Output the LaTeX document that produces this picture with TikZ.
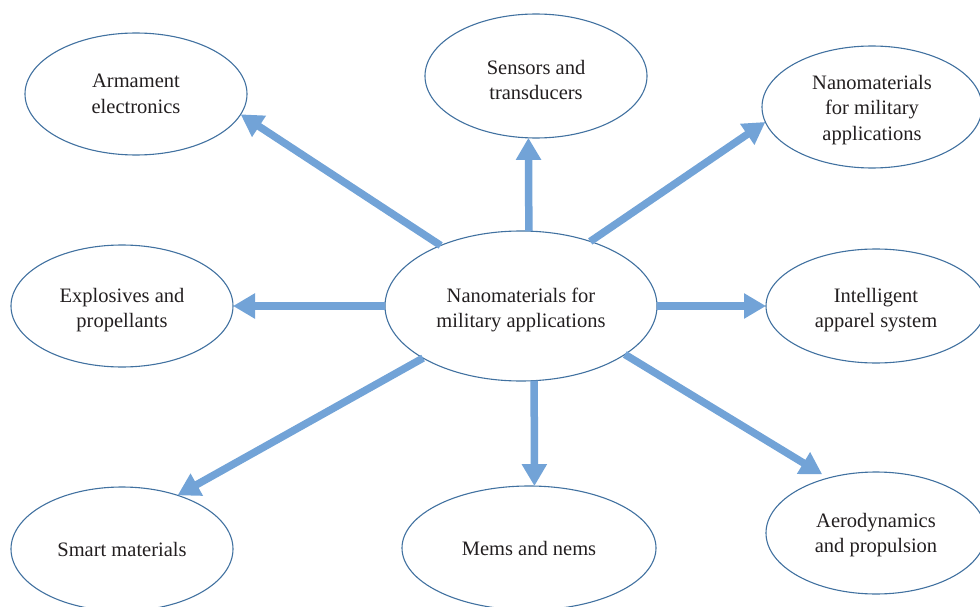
\documentclass[tikz,border=0pt]{standalone}
\usepackage{fontspec}
\setmainfont{Liberation Serif}
\usetikzlibrary{shapes.geometric,arrows.meta}
\definecolor{ellline}{RGB}{65,113,160}
\definecolor{arrblue}{RGB}{114,163,215}
\definecolor{txt}{RGB}{35,31,32}
\newcommand{\topstrut}[1]{\rule{0pt}{#1}}
\tikzset{
  bubble/.style={ellipse,draw=ellline,line width=1.1pt,inner sep=0pt,outer sep=0pt,
    align=center,text=txt,font=\fontsize{20.5}{25.5}\selectfont},
  link/.style={draw=arrblue,line width=7.5pt,
    -{Triangle[length=22pt,width=24pt]}}
}
\begin{document}
\begin{tikzpicture}[x=1pt,y=-1pt]
\useasboundingbox (0,0) rectangle (980,607);
\node[bubble,minimum width=272pt,minimum height=150pt] (c) at (521,306) {\topstrut{22pt}Nanomaterials for\\military applications};
\node[bubble,minimum width=222pt,minimum height=122pt] (arm) at (136,94) {Armament\\electronics};
\node[bubble,minimum width=222pt,minimum height=124pt] (sen) at (536,76) {\topstrut{22pt}Sensors and\\transducers};
\node[bubble,minimum width=220pt,minimum height=122pt] (nm) at (872,107) {\topstrut{20pt}Nanomaterials\\for military\\applications};
\node[bubble,minimum width=222pt,minimum height=122pt] (exp) at (122,306) {\topstrut{22pt}Explosives and\\propellants};
\node[bubble,minimum width=220pt,minimum height=114pt] (int) at (876,306) {\topstrut{22pt}Intelligent\\apparel system};
\node[bubble,minimum width=222pt,minimum height=124pt] (sm) at (122,549) {Smart materials};
\node[bubble,minimum width=254pt,minimum height=124pt] (mem) at (529,548) {Mems and nems};
\node[bubble,minimum width=220pt,minimum height=122pt] (aer) at (876,533) {\topstrut{18pt}Aerodynamics\\and propulsion};
\draw[link] (c.143.5) -- (arm.-11.9);
\draw[link] (c.84.4) -- (sen.-97.2);
\draw[link] (c.43.3) -- (nm.188.1);
\draw[link] (c.west) -- (exp.east);
\draw[link] (c.east) -- (int.west);
\draw[link] (c.208.6) -- (sm.44.5);
\draw[link] (c.280.1) -- (mem.85.5);
\draw[link,shorten >=7pt] (c.-25.4) -- (aer.131.6);
\end{tikzpicture}
\end{document}
